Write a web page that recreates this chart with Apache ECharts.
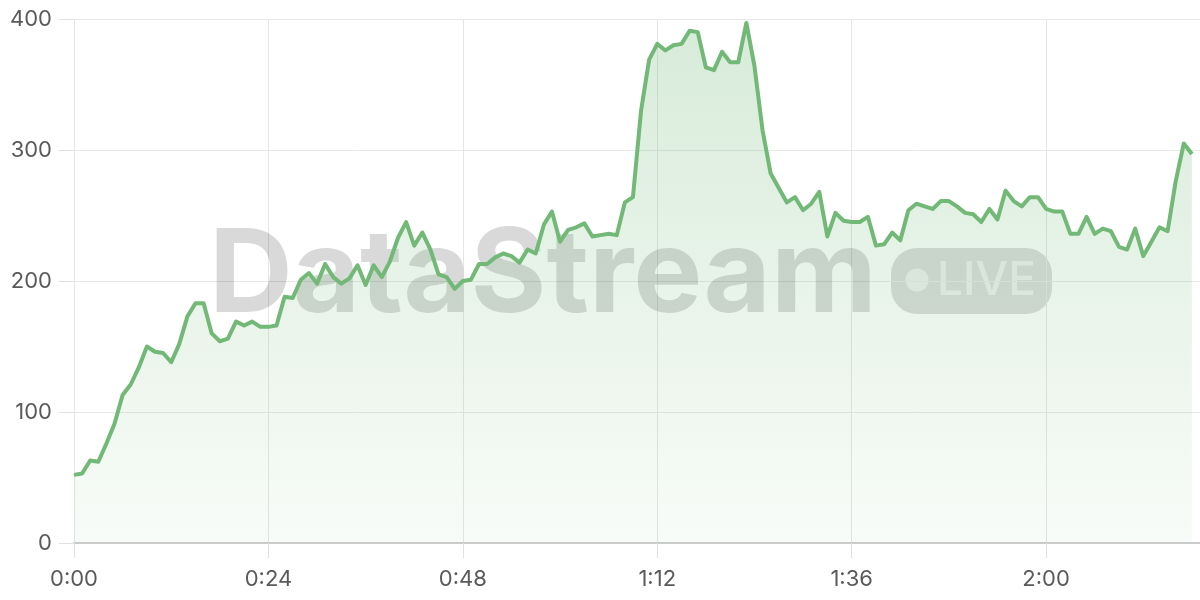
<!DOCTYPE html>
<html>
<head>
<meta charset="utf-8">
<style>
  html, body { margin: 0; padding: 0; background: #ffffff; }
  #chart { width: 1200px; height: 600px; }
</style>
<script src="https://cdn.jsdelivr.net/npm/echarts@6/dist/echarts.min.js"></script>
</head>
<body>
<div id="chart"></div>
<script>
// Values per minute, from 0:00 to 2:18
const values = [
  52, 53, 63, 62, 76, 91, 113, 121, 134, 150,
  146, 145, 138, 152, 173, 183, 183, 160, 154, 156,
  169, 166, 169, 165, 165, 166, 188, 187, 201, 206,
  198, 213, 203, 198, 202, 212, 197, 212, 203, 215,
  233, 245, 227, 237, 224, 205, 203, 194, 200, 201,
  213, 213, 218, 221, 219, 214, 224, 221, 243, 253,
  230, 239, 241, 244, 234, 235, 236, 235, 260, 264,
  330, 369, 381, 376, 380, 381, 391, 390, 363, 361,
  375, 367, 367, 397, 364, 315, 282, 271, 260, 264,
  254, 259, 268, 234, 252, 246, 245, 245, 249, 227,
  228, 237, 231, 254, 259, 257, 255, 261, 261, 257,
  252, 251, 245, 255, 247, 269, 261, 257, 264, 264,
  255, 253, 253, 236, 236, 249, 236, 240, 238, 226,
  224, 240, 219, 230, 241, 238, 276, 305, 297
];
const yTicks = [0, 100, 200, 300, 400];
const xTickMinutes = [0, 24, 48, 72, 96, 120];
const watermarkText = 'DataStream';
const badgeText = 'LIVE';

const seriesData = values.map((v, i) => [i, v]);

const fmt = (m) => Math.floor(m / 60) + ':' + String(m % 60).padStart(2, '0');

const chart = echarts.init(document.getElementById('chart'), null, { renderer: 'canvas' });
chart.setOption({
  animation: false,
  backgroundColor: '#ffffff',
  textStyle: { fontFamily: 'Inter, "Noto Sans", sans-serif' },
  grid: { left: 74, right: 0, top: 19, bottom: 57, containLabel: false },
  xAxis: {
    type: 'value',
    min: 0,
    max: 139,
    interval: 24,
    axisLine: { show: true, lineStyle: { color: '#cccccc', width: 2 } },
    axisTick: { show: true, length: 15, lineStyle: { color: '#e0e0e0', width: 1 } },
    axisLabel: {
      show: true,
      margin: 25,
      fontSize: 22,
      color: '#5a5a5a',
      fontFamily: 'Inter',
      showMaxLabel: false,
      formatter: (v) => xTickMinutes.indexOf(v) >= 0 ? fmt(v) : ''
    },
    splitLine: { show: true, lineStyle: { color: '#e6e6e6', width: 1 } }
  },
  yAxis: {
    type: 'value',
    min: yTicks[0],
    max: yTicks[yTicks.length - 1],
    interval: 100,
    axisLine: { show: false },
    axisTick: { show: true, length: 15, lineStyle: { color: '#e0e0e0', width: 1 } },
    axisLabel: { margin: 22, fontSize: 22, color: '#5a5a5a', fontFamily: 'Inter' },
    splitLine: { show: true, lineStyle: { color: '#e8e8e8', width: 1 } }
  },
  graphic: [
    {
      type: 'text',
      z: 1,
      left: 209,
      top: 219,
      style: {
        text: watermarkText,
        font: 'bold 116px Inter',
        fill: 'rgba(0,0,0,0.15)'
      }
    },
    {
      type: 'group',
      z: 1,
      left: 891,
      top: 248,
      children: [
        {
          type: 'rect',
          shape: { x: 0, y: 0, width: 161, height: 66, r: 26 },
          style: { fill: 'rgba(0,0,0,0.14)' }
        },
        {
          type: 'circle',
          shape: { cx: 26, cy: 32, r: 11.5 },
          style: { fill: 'rgba(255,255,255,0.55)' }
        },
        {
          type: 'text',
          x: 46,
          y: 33,
          style: {
            text: badgeText,
            font: '500 46px Inter',
            fill: 'rgba(255,255,255,0.55)',
            verticalAlign: 'middle',
            align: 'left'
          }
        }
      ]
    }
  ],
  series: [{
    type: 'line',
    data: seriesData,
    showSymbol: false,
    symbol: 'none',
    smooth: false,
    z: 3,
    lineStyle: { color: '#72b877', width: 4, join: 'round' },
    areaStyle: {
      color: new echarts.graphic.LinearGradient(0, 0, 0, 1, [
        { offset: 0, color: 'rgba(114,184,119,0.4)' },
        { offset: 1, color: 'rgba(114,184,119,0.07)' }
      ])
    }
  }]
});
</script>
</body>
</html>
